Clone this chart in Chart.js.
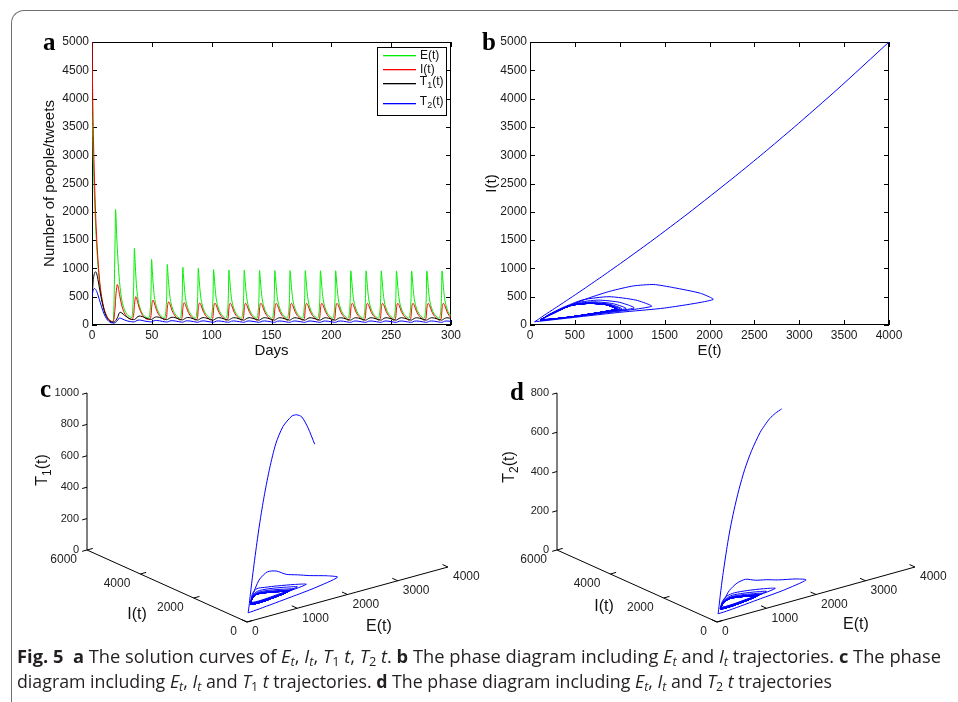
<!DOCTYPE html>
<html>
<head>
<meta charset="utf-8">
<script src="https://cdn.jsdelivr.net/npm/chart.js@4.4.1/dist/chart.umd.min.js"></script>
<style>
html, body { margin: 0; padding: 0; background: #fff; width: 958px; height: 702px; overflow: hidden; position: relative; }
canvas { display: block; }
.frame { position: absolute; left: 11px; top: 10px; width: 1100px; height: 1000px; border-top: 1.5px solid #707070; border-left: 1.5px solid #707070; border-top-left-radius: 13px; }
.panel { position: absolute; }
.tag { position: absolute; font: bold 25px "Liberation Serif", serif; line-height: 25px; color: #000; }
.cap { position: absolute; left: 17px; white-space: nowrap; font: 18px "Open Sans", sans-serif; line-height: 22px; color: #231f20; transform-origin: 0 0; }
.cap b { font-weight: 700; }
.cap sub { font-size: 70%; vertical-align: -3px; line-height: 0; }
</style>
</head>
<body>
<div class="frame"></div>

<div class="panel" style="left:0;top:0"><canvas id="chartA" width="470" height="360"></canvas></div>
<div class="panel" style="left:480px;top:0"><canvas id="chartB" width="478" height="370"></canvas></div>
<div class="panel" style="left:0;top:350px"><canvas id="chartC" width="480" height="290"></canvas></div>
<div class="panel" style="left:480px;top:350px"><canvas id="chartD" width="478" height="290"></canvas></div>

<div class="tag" style="left:43px;top:29px">a</div>
<div class="tag" style="left:482px;top:29px">b</div>
<div class="tag" style="left:40px;top:376px">c</div>
<div class="tag" style="left:510px;top:379px">d</div>

<div class="cap" id="cap1" data-w="924" style="top:645px"><b>Fig. 5</b>&nbsp;&nbsp;<b>a</b> The solution curves of <i>E<sub>t</sub></i>, <i>I<sub>t</sub></i>, <i>T</i><sub>1</sub> <i>t</i>, <i>T</i><sub>2</sub> <i>t</i>. <b>b</b> The phase diagram including <i>E<sub>t</sub></i> and <i>I<sub>t</sub></i> trajectories. <b>c</b> The phase</div>
<div class="cap" id="cap2" data-w="815" style="top:670px">diagram including <i>E<sub>t</sub></i>, <i>I<sub>t</sub></i> and <i>T</i><sub>1</sub> <i>t</i> trajectories. <b>d</b> The phase diagram including <i>E<sub>t</sub></i>, <i>I<sub>t</sub></i> and <i>T</i><sub>2</sub> <i>t</i> trajectories</div>

<script>
// values; one row per oscillation
const days = [
  0, 0.5, 1, 1.5, 2, 3, 4, 5, 6, 7, 8, 10, 12, 14, 16, 17.5,
  18.3, 18.9, 19.3, 19.7, 20.1, 20.6, 21.1, 21.7, 22.5, 23.5, 25, 27, 29.5, 32,
  33.2, 34.2, 34.9, 35.4, 35.9, 36.6, 37.6, 39.4, 41.9, 44.4,
  47.2, 48.6, 49.3, 49.8, 50.3, 51.0, 52.0, 53.8, 56.3, 58.8,
  60.3, 61.7, 62.4, 62.9, 63.4, 64.1, 65.1, 66.9, 69.4, 71.9,
  73.3, 74.7, 75.4, 75.9, 76.4, 77.1, 78.1, 79.9, 82.4, 84.9,
  86.2, 87.6, 88.3, 88.8, 89.3, 90.0, 91.0, 92.8, 95.3, 97.8,
  99.0, 100.4, 101.1, 101.6, 102.1, 102.8, 103.8, 105.6, 108.1, 110.6,
  111.8, 113.2, 113.9, 114.4, 114.9, 115.6, 116.6, 118.4, 120.9, 123.4,
  124.6, 126.0, 126.7, 127.2, 127.7, 128.4, 129.4, 131.2, 133.7, 136.2,
  137.4, 138.8, 139.5, 140.0, 140.5, 141.2, 142.2, 144.0, 146.5, 149.0,
  150.2, 151.6, 152.3, 152.8, 153.3, 154.0, 155.0, 156.8, 159.3, 161.8,
  162.9, 164.3, 165.0, 165.5, 166.0, 166.7, 167.7, 169.5, 172.0, 174.5,
  175.6, 177.0, 177.7, 178.2, 178.7, 179.4, 180.4, 182.2, 184.7, 187.2,
  188.3, 189.7, 190.4, 190.9, 191.4, 192.1, 193.1, 194.9, 197.4, 199.9,
  201.0, 202.4, 203.1, 203.6, 204.1, 204.8, 205.8, 207.6, 210.1, 212.6,
  213.7, 215.1, 215.8, 216.3, 216.8, 217.5, 218.5, 220.3, 222.8, 225.3,
  226.4, 227.8, 228.5, 229.0, 229.5, 230.2, 231.2, 233.0, 235.5, 238.0,
  239.1, 240.5, 241.2, 241.7, 242.2, 242.9, 243.9, 245.7, 248.2, 250.7,
  251.8, 253.2, 253.9, 254.4, 254.9, 255.6, 256.6, 258.4, 260.9, 263.4,
  264.5, 265.9, 266.6, 267.1, 267.6, 268.3, 269.3, 271.1, 273.6, 276.1,
  277.2, 278.6, 279.3, 279.8, 280.3, 281.0, 282.0, 283.8, 286.3, 288.8,
  289.9, 291.3, 292.0, 292.5, 293.0, 293.7, 294.7, 296.5, 298.5, 300
];

const E = [
  4000, 3420, 2950, 2600, 2290, 1760, 1370, 1060, 810, 620, 475, 275, 160, 95, 62, 52,
  300, 1000, 1500, 2040, 1900, 1600, 1380, 1150, 900, 660, 430, 280, 180, 140,
  132, 330, 750, 1355, 1180, 880, 590, 360, 210, 150,
  123, 260, 560, 1160, 1000, 760, 520, 330, 200, 145,
  120, 240, 510, 1070, 930, 720, 500, 320, 195, 140,
  118, 230, 490, 1020, 890, 690, 480, 310, 192, 140,
  118, 228, 480, 1000, 875, 680, 475, 305, 190, 138,
  117, 226, 472, 980, 865, 672, 468, 302, 189, 138,
  117, 225, 470, 972, 860, 668, 466, 301, 188, 137,
  116, 224, 469, 968, 858, 667, 465, 300, 188, 137,
  116, 224, 468, 965, 856, 666, 465, 300, 188, 137,
  116, 223, 467, 962, 855, 665, 464, 300, 187, 136,
  116, 223, 467, 960, 855, 665, 464, 300, 187, 136,
  116, 223, 467, 960, 855, 665, 464, 300, 187, 136,
  116, 223, 467, 958, 855, 665, 464, 300, 187, 136,
  116, 223, 467, 958, 855, 665, 464, 300, 187, 136,
  116, 223, 467, 957, 855, 665, 464, 300, 187, 136,
  116, 223, 467, 957, 855, 665, 464, 300, 187, 136,
  116, 223, 467, 956, 855, 665, 464, 300, 187, 136,
  116, 223, 467, 956, 855, 665, 464, 300, 187, 136,
  116, 223, 467, 955, 855, 665, 464, 300, 187, 136,
  116, 223, 467, 955, 855, 665, 464, 300, 187, 136,
  116, 223, 467, 955, 855, 665, 464, 300, 195, 168
];

const I = [
  5000, 4157, 3504, 3035, 2632, 1969, 1503, 1146, 866, 659, 503, 293, 174, 102, 68, 58,
  100, 224, 300, 450, 560, 660, 715, 690, 600, 480, 335, 215, 140, 105,
  98, 118, 195, 330, 440, 500, 445, 305, 185, 123,
  95, 108, 165, 300, 400, 440, 392, 270, 166, 116,
  92, 105, 155, 290, 375, 410, 370, 255, 160, 112,
  90, 103, 150, 285, 365, 395, 360, 250, 158, 110,
  88, 102, 148, 283, 362, 390, 356, 248, 157, 110,
  87, 101, 147, 282, 360, 386, 352, 246, 156, 109,
  87, 101, 146, 281, 359, 384, 351, 245, 155, 109,
  86, 100, 146, 280, 358, 383, 350, 245, 155, 108,
  86, 100, 146, 280, 358, 383, 350, 245, 155, 108,
  86, 100, 145, 279, 357, 382, 349, 244, 154, 108,
  86, 100, 145, 279, 357, 382, 349, 244, 154, 108,
  86, 100, 145, 279, 357, 382, 349, 244, 154, 108,
  86, 100, 145, 279, 357, 382, 349, 244, 154, 108,
  86, 100, 145, 279, 357, 382, 349, 244, 154, 108,
  86, 100, 145, 279, 357, 382, 349, 244, 154, 108,
  86, 100, 145, 279, 357, 382, 349, 244, 154, 108,
  86, 100, 145, 279, 357, 382, 349, 244, 154, 108,
  86, 100, 145, 279, 357, 382, 349, 244, 154, 108,
  86, 100, 145, 279, 357, 382, 349, 244, 154, 108,
  86, 100, 145, 279, 357, 382, 349, 244, 154, 108,
  86, 100, 145, 279, 357, 382, 349, 244, 162, 132
];

const T1 = [
  400, 620, 780, 860, 910, 940, 900, 800, 680, 560, 450, 270, 150, 85, 55, 50,
  50, 55, 62, 72, 85, 105, 125, 150, 200, 225, 210, 175, 135, 105,
  100, 95, 94, 96, 102, 115, 135, 158, 150, 125,
  108, 100, 98, 99, 104, 115, 130, 143, 135, 116,
  104, 96, 93, 94, 99, 110, 124, 137, 130, 112,
  100, 93, 90, 91, 96, 106, 120, 133, 126, 109,
  98, 91, 88, 89, 94, 104, 118, 131, 124, 107,
  97, 90, 87, 88, 93, 103, 117, 130, 123, 106,
  96, 90, 87, 88, 93, 103, 117, 129, 122, 106,
  96, 89, 86, 87, 92, 102, 116, 129, 122, 105,
  96, 89, 86, 87, 92, 102, 116, 129, 122, 105,
  95, 89, 86, 87, 92, 102, 116, 128, 121, 105,
  95, 89, 86, 87, 92, 102, 116, 128, 121, 105,
  95, 89, 86, 87, 92, 102, 116, 128, 121, 105,
  95, 89, 86, 87, 92, 102, 116, 128, 121, 105,
  95, 89, 86, 87, 92, 102, 116, 128, 121, 105,
  95, 89, 86, 87, 92, 102, 116, 128, 121, 105,
  95, 89, 86, 87, 92, 102, 116, 128, 121, 105,
  95, 89, 86, 87, 92, 102, 116, 128, 121, 105,
  95, 89, 86, 87, 92, 102, 116, 128, 121, 105,
  95, 89, 86, 87, 92, 102, 116, 128, 121, 105,
  95, 89, 86, 87, 92, 102, 116, 128, 121, 105,
  95, 89, 86, 87, 92, 102, 116, 128, 123, 116
];

const T2 = [
  500, 570, 615, 635, 645, 630, 590, 530, 460, 390, 320, 200, 115, 65, 40, 35,
  33, 35, 38, 44, 52, 62, 75, 90, 118, 122, 110, 90, 72, 60,
  58, 55, 54, 56, 60, 68, 80, 88, 80, 68,
  60, 56, 55, 56, 59, 66, 76, 80, 74, 64,
  58, 54, 52, 53, 56, 63, 72, 76, 71, 62,
  56, 52, 50, 51, 54, 61, 70, 74, 69, 60,
  55, 51, 49, 50, 53, 60, 69, 73, 68, 59,
  54, 50, 48, 49, 52, 59, 68, 72, 67, 58,
  54, 50, 48, 49, 52, 59, 68, 72, 67, 58,
  54, 50, 48, 49, 52, 59, 68, 72, 67, 58,
  54, 50, 48, 49, 52, 59, 68, 72, 67, 58,
  53, 49, 47, 48, 51, 58, 67, 71, 66, 57,
  53, 49, 47, 48, 51, 58, 67, 71, 66, 57,
  53, 49, 47, 48, 51, 58, 67, 71, 66, 57,
  53, 49, 47, 48, 51, 58, 67, 71, 66, 57,
  53, 49, 47, 48, 51, 58, 67, 71, 66, 57,
  53, 49, 47, 48, 51, 58, 67, 71, 66, 57,
  53, 49, 47, 48, 51, 58, 67, 71, 66, 57,
  53, 49, 47, 48, 51, 58, 67, 71, 66, 57,
  53, 49, 47, 48, 51, 58, 67, 71, 66, 57,
  53, 49, 47, 48, 51, 58, 67, 71, 66, 57,
  53, 49, 47, 48, 51, 58, 67, 71, 66, 57,
  53, 49, 47, 48, 51, 58, 67, 71, 67, 63
];

const seriesLabels = ['E(t)', 'I(t)', 'T1(t)', 'T2(t)'];
const seriesColors = ['#00ee00', '#ff0000', '#000000', '#0000ff'];

// tick values of the 3-D boxes
const eTicks3d = [0, 1000, 2000, 3000, 4000];
const iTicks3d = [0, 2000, 4000, 6000];
const t1Ticks = [0, 200, 400, 600, 800, 1000];
const t2Ticks = [0, 200, 400, 600, 800];

const FONT = 'Liberation Sans';
const tickFont = { family: FONT, size: 12 };
const titleFont = { family: FONT, size: 15 };
const plain = v => String(v);

// draw "T" + subscript "1" + "(t)" centred on x,y
function labelWithSub(ctx, text, x, y, size, rot) {
  const m = /^([A-Za-z])(\d?)(\(t\))$/.exec(text);
  const head = m ? m[1] : text, sub = m ? m[2] : '', tail = m ? m[3] : '';
  const big = size + 'px "' + FONT + '"', small = Math.round(size * 0.72) + 'px "' + FONT + '"';
  ctx.save();
  ctx.translate(x, y);
  ctx.rotate(rot || 0);
  ctx.font = big;
  const w1 = ctx.measureText(head).width, w3 = ctx.measureText(tail).width;
  ctx.font = small;
  const w2 = sub ? ctx.measureText(sub).width : 0;
  let cx = -(w1 + w2 + w3) / 2;
  ctx.textAlign = 'left';
  ctx.textBaseline = 'middle';
  ctx.fillStyle = '#111';
  ctx.font = big; ctx.fillText(head, cx, 0); cx += w1;
  if (sub) { ctx.font = small; ctx.fillText(sub, cx, size * 0.32); cx += w2; }
  ctx.font = big; ctx.fillText(tail, cx, 0);
  ctx.restore();
}

// closed axes box with inward ticks (matlab look), drawn under the curves
const matlabBox = {
  id: 'matlabBox',
  beforeDatasetsDraw(chart) {
    const { ctx, chartArea: ca, scales } = chart;
    ctx.save();
    ctx.strokeStyle = '#000';
    ctx.lineWidth = 1;
    ctx.strokeRect(ca.left + 0.5, ca.top + 0.5, ca.right - ca.left - 1, ca.bottom - ca.top - 1);
    ctx.beginPath();
    scales.x.ticks.forEach(t => {
      const px = Math.round(scales.x.getPixelForValue(t.value)) + 0.5;
      ctx.moveTo(px, ca.bottom); ctx.lineTo(px, ca.bottom - 5);
      ctx.moveTo(px, ca.top); ctx.lineTo(px, ca.top + 5);
    });
    scales.y.ticks.forEach(t => {
      const py = Math.round(scales.y.getPixelForValue(t.value)) + 0.5;
      ctx.moveTo(ca.left, py); ctx.lineTo(ca.left + 5, py);
      ctx.moveTo(ca.right, py); ctx.lineTo(ca.right - 5, py);
    });
    ctx.stroke();
    ctx.restore();
  }
};

const seriesKey = {
  id: 'seriesKey',
  afterDraw(chart) {
    const { ctx, chartArea: ca } = chart;
    const left = ca.right - 74, top = ca.top + 5;
    const rowY = [8, 22, 36, 56];
    ctx.save();
    ctx.fillStyle = '#fff';
    ctx.fillRect(left, top, 69, 68);
    ctx.strokeStyle = '#000';
    ctx.lineWidth = 1;
    ctx.strokeRect(left + 0.5, top + 0.5, 69, 68);
    seriesLabels.forEach((lab, k) => {
      const y = top + rowY[k];
      ctx.fillStyle = seriesColors[k];
      ctx.fillRect(left + 6, y, 33, 1.3);
      const hasSub = /\d/.test(lab);
      ctx.font = '12px "' + FONT + '"';
      const w = ctx.measureText(lab).width;
      labelWithSub(ctx, lab, left + 43 + w / 2 - (hasSub ? 1 : 0), y + (hasSub ? -1.5 : 1), 12, 0);
    });
    ctx.restore();
  }
};

function project(v, e, i, t) {
  return { x: v.ox + e * v.ex + i * v.ix, y: v.oy + e * v.ey + i * v.iy + t * v.tz };
}

const axes3d = {
  id: 'axes3d',
  beforeDatasetsDraw(chart, args, o) {
    const { ctx } = chart, sx = chart.scales.x, sy = chart.scales.y;
    const P = (e, i, t) => { const v = project(o.view, e, i, t); return [sx.getPixelForValue(v.x), sy.getPixelForValue(v.y)]; };
    const eMax = o.eTicks[o.eTicks.length - 1], iMax = o.iTicks[o.iTicks.length - 1], tMax = o.tTicks[o.tTicks.length - 1];
    const seg = (a, b) => { ctx.moveTo(a[0], a[1]); ctx.lineTo(b[0], b[1]); };
    const unit = (a, b) => { const dx = b[0] - a[0], dy = b[1] - a[1], L = Math.hypot(dx, dy); return [dx / L, dy / L]; };
    const o0 = P(0, 0, 0), dE = unit(o0, P(eMax, 0, 0)), dI = unit(o0, P(0, iMax, 0));
    ctx.save();
    ctx.strokeStyle = '#000';
    ctx.lineWidth = 1;
    ctx.beginPath();
    seg(o0, P(eMax, 0, 0));
    seg(o0, P(0, iMax, 0));
    seg(P(0, iMax, 0), P(0, iMax, tMax));
    o.eTicks.forEach(v => { const p = P(v, 0, 0); seg(p, [p[0] + dI[0] * 6, p[1] + dI[1] * 6]); });
    o.iTicks.forEach(v => { const p = P(0, v, 0); seg(p, [p[0] + dE[0] * 6, p[1] + dE[1] * 6]); });
    o.tTicks.forEach(v => { const p = P(0, iMax, v); seg(p, [p[0] - dE[0] * 5, p[1] - dE[1] * 5]); });
    ctx.stroke();

    ctx.fillStyle = '#222';
    ctx.textBaseline = 'middle';
    ctx.font = '12px "' + FONT + '"';
    ctx.textAlign = 'left';
    o.eTicks.forEach(v => { const p = P(v, 0, 0); ctx.fillText(plain(v), p[0] + 5, p[1] + 10); });
    ctx.textAlign = 'right';
    o.iTicks.forEach(v => { const p = P(0, v, 0); ctx.fillText(plain(v), p[0] - 10, p[1] + 10); });
    ctx.font = '11px "' + FONT + '"';
    o.tTicks.forEach(v => { const p = P(0, iMax, v); ctx.fillText(plain(v), p[0] - 8, p[1]); });

    labelWithSub(ctx, 'E(t)', o.eTitle[0], o.eTitle[1], 16, 0);
    labelWithSub(ctx, 'I(t)', o.iTitle[0], o.iTitle[1], 16, 0);
    labelWithSub(ctx, o.tName, o.tTitle[0], o.tTitle[1], 16, -Math.PI / 2);
    ctx.restore();
  }
};

// panel a: time series
const pts = ys => days.map((d, k) => ({ x: d, y: ys[k] }));
new Chart(document.getElementById('chartA'), {
  type: 'line',
  data: {
    datasets: [E, I, T1, T2].map((ys, k) => ({
      label: seriesLabels[k], data: pts(ys), borderColor: seriesColors[k], order: 4 - k
    }))
  },
  options: {
    responsive: false,
    animation: false,
    elements: { point: { radius: 0 }, line: { borderWidth: 1, cubicInterpolationMode: 'monotone' } },
    layout: { padding: { left: 0, top: 42, right: 19, bottom: 0 } },
    plugins: { legend: { display: false }, tooltip: { enabled: false } },
    scales: {
      x: {
        type: 'linear', min: 0, max: 300,
        ticks: { stepSize: 50, font: tickFont, color: '#1a1a1a', padding: 3, maxRotation: 0, callback: plain },
        grid: { display: false, drawTicks: false }, border: { display: false },
        title: { display: true, text: 'Days', font: titleFont, color: '#111', padding: { top: 0, bottom: 0 } },
        afterFit(s) { s.height = 35; }
      },
      y: {
        min: 0, max: 5000,
        ticks: { stepSize: 500, font: tickFont, color: '#1a1a1a', padding: 3, callback: plain },
        grid: { display: false, drawTicks: false }, border: { display: false },
        title: { display: true, text: 'Number of people/tweets', font: titleFont, color: '#111', padding: { top: 41, bottom: 0 } },
        afterFit(s) { s.width = 92; }
      }
    }
  },
  plugins: [matlabBox, seriesKey]
});

// panel b: I against E
new Chart(document.getElementById('chartB'), {
  type: 'scatter',
  data: { datasets: [{ data: E.map((e, k) => ({ x: e, y: I[k] })), showLine: true, borderColor: '#0000ff', borderWidth: 1, pointRadius: 0, tension: 0.2 }] },
  options: {
    responsive: false,
    animation: false,
    layout: { padding: { left: 0, top: 42, right: 69, bottom: 0 } },
    plugins: { legend: { display: false }, tooltip: { enabled: false } },
    scales: {
      x: {
        type: 'linear', min: 0, max: 4000,
        ticks: { stepSize: 500, font: tickFont, color: '#1a1a1a', padding: 3, maxRotation: 0, callback: plain },
        grid: { display: false, drawTicks: false }, border: { display: false },
        title: { display: true, text: 'E(t)', font: titleFont, color: '#111', padding: { top: 0, bottom: 10 } },
        afterFit(s) { s.height = 45; }
      },
      y: {
        min: 0, max: 5000,
        ticks: { stepSize: 500, font: tickFont, color: '#1a1a1a', padding: 3, callback: plain },
        grid: { display: false, drawTicks: false }, border: { display: false },
        title: { display: true, text: 'I(t)', font: titleFont, color: '#111', padding: { top: 3, bottom: 0 } },
        afterFit(s) { s.width = 50; }
      }
    }
  },
  plugins: [matlabBox]
});

// panels c and d: 3-D trajectories projected onto the page
function chart3d(id, w, h, tSeries, view, tTicks, tName, titles) {
  new Chart(document.getElementById(id), {
    type: 'scatter',
    data: {
      datasets: [{
        data: E.map((e, k) => project(view, e, I[k], tSeries[k])),
        showLine: true, borderColor: '#0000ff', borderWidth: 1, pointRadius: 0, tension: 0.25
      }]
    },
    options: {
      responsive: false,
      animation: false,
      layout: { padding: 0 },
      plugins: {
        legend: { display: false }, tooltip: { enabled: false },
        axes3d: { view, eTicks: eTicks3d, iTicks: iTicks3d, tTicks, tName, eTitle: titles[0], iTitle: titles[1], tTitle: titles[2] }
      },
      scales: {
        x: { type: 'linear', display: false, min: 0, max: w },
        y: { type: 'linear', display: false, min: 0, max: h, reverse: true }
      }
    },
    plugins: [axes3d]
  });
}

const viewC = { ox: 247, oy: 272, ex: 201 / 4000, ey: -55 / 4000, ix: -160 / 6000, iy: -72 / 6000, tz: -157 / 1000 };
const viewD = { ox: 237, oy: 272, ex: 198 / 4000, ey: -55 / 4000, ix: -160 / 6000, iy: -72 / 6000, tz: -157 / 800 };
chart3d('chartC', 480, 290, T1, viewC, t1Ticks, 'T1(t)', [[379, 277], [137, 265], [43, 120]]);
chart3d('chartD', 478, 290, T2, viewD, t2Ticks, 'T2(t)', [[376, 275], [124, 257], [30, 117]]);

// squeeze caption lines to the measured widths
function fitCaption() {
  document.querySelectorAll('.cap').forEach(el => {
    el.style.transform = 'none';
    const w = el.getBoundingClientRect().width;
    el.style.transform = 'scaleX(' + (+el.dataset.w / w) + ')';
  });
}
fitCaption();
if (document.fonts) document.fonts.ready.then(fitCaption);
</script>
</body>
</html>
